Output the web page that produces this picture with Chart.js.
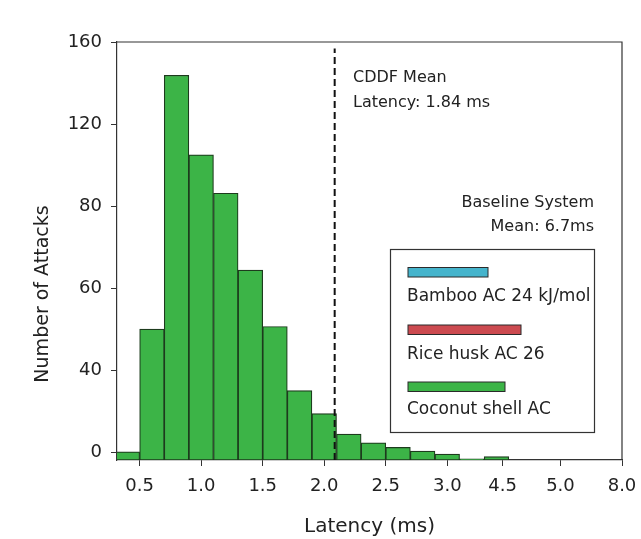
<!DOCTYPE html>
<html lang="en">
<head>
  <meta charset="UTF-8">
  <title>Latency histogram</title>
  <script src="https://cdn.jsdelivr.net/npm/chart.js"></script>
  <style>
    body {
      margin: 0;
      background: #fff;
    }
    canvas {
      display: block;
    }
  </style>
</head>
<body>

  <canvas id="grafiku" width="641" height="539"></canvas>

  <script>
    // bin centres (axis units) and bar heights
    const binCenters = [0.4, 0.6, 0.8, 1.0, 1.2, 1.4, 1.6, 1.8, 2.0, 2.2, 2.4, 2.6, 2.8, 3.0, 3.2, 3.4];
    const attackCounts = [0.1, 48, 147, 116, 101, 71, 49, 24, 15, 7, 3.6, 1.8, 0.4, -0.8, -2.6, -1.8];

    // axis ticks: where they sit and what they say
    const xTickPos = [0.5, 1.0, 1.5, 2.0, 2.5, 3.0, 3.45, 3.92, 4.42];
    const xTickLabels = ['0.5', '1.0', '1.5', '2.0', '2.5', '3.0', '4.5', '5.0', '8.0'];
    const yTickPos = [0, 32, 64, 96, 128, 160];
    const yTickLabels = ['0', '40', '60', '80', '120', '160'];

    // dashed mean line
    const meanLineX = 2.085;
    const meanLineTop = 157.5;

    const annotationMean = ['CDDF Mean', 'Latency: 1.84 ms'];
    const annotationBaseline = ['Baseline System', 'Mean: 6.7ms'];

    const legendLabels = ['Bamboo AC 24 kJ/mol', 'Rice husk AC 26', 'Coconut shell AC'];
    const legendColors = ['#45b4cc', '#cc4a50', '#3cb447'];

    const Y_MIN = -3.1;
    const FONT = "'DejaVu Sans', sans-serif";

    const decor = {
      id: 'decor',
      afterDraw(chart) {
        const ctx = chart.ctx;
        const a = chart.chartArea;
        ctx.save();

        // top and right frame
        ctx.strokeStyle = '#333';
        ctx.lineWidth = 1.2;
        ctx.beginPath();
        ctx.moveTo(a.left, a.top);
        ctx.lineTo(a.right, a.top);
        ctx.lineTo(a.right, a.bottom);
        ctx.stroke();

        // y title
        ctx.fillStyle = '#222';
        ctx.font = '19px ' + FONT;
        ctx.textAlign = 'center';
        ctx.textBaseline = 'middle';
        ctx.translate(43, 294);
        ctx.rotate(-Math.PI / 2);
        ctx.fillText('Number of Attacks', 0, 0);
        ctx.setTransform(1, 0, 0, 1, 0, 0);

        // annotations
        ctx.font = '16px ' + FONT;
        ctx.textAlign = 'left';
        ctx.fillText(annotationMean[0], 353, 78);
        ctx.fillText(annotationMean[1], 353, 103);
        ctx.textAlign = 'right';
        ctx.fillText(annotationBaseline[0], 594, 203);
        ctx.fillText(annotationBaseline[1], 594, 227);

        // legend box
        ctx.fillStyle = '#fff';
        ctx.fillRect(390, 249, 204, 183);
        ctx.strokeStyle = '#333';
        ctx.lineWidth = 1.2;
        ctx.strokeRect(390.5, 249.5, 204, 183);

        const swatchW = [80, 113, 97];
        const swatchY = [267.5, 325, 382];
        const textY = [297, 355, 410];
        ctx.font = '17px ' + FONT;
        ctx.textAlign = 'left';
        legendLabels.forEach((lab, i) => {
          ctx.fillStyle = legendColors[i];
          ctx.fillRect(408, swatchY[i], swatchW[i], 9.5);
          ctx.strokeStyle = '#2a2a2a';
          ctx.lineWidth = 1;
          ctx.strokeRect(408, swatchY[i], swatchW[i], 9.5);
          ctx.fillStyle = '#222';
          ctx.fillText(lab, 407, textY[i]);
        });

        ctx.restore();
      }
    };

    new Chart(document.getElementById('grafiku'), {
      data: {
        datasets: [
          {
            type: 'line',
            data: [{x: meanLineX, y: Y_MIN}, {x: meanLineX, y: meanLineTop}],
            borderColor: '#111',
            borderWidth: 2,
            borderDash: [7, 4],
            pointRadius: 0,
            order: 0
          },
          {
            type: 'bar',
            data: binCenters.map((x, i) => ({x: x, y: attackCounts[i]})),
            base: Y_MIN,
            backgroundColor: '#3cb447',
            borderColor: '#1d3b1d',
            borderWidth: 1.2,
            borderSkipped: false,
            barPercentage: 1,
            categoryPercentage: 1,
            order: 1
          }
        ]
      },
      options: {
        responsive: false,
        animation: false,
        layout: { padding: { top: 42, right: 19, bottom: 0, left: 0 } },
        plugins: {
          legend: { display: false },
          tooltip: { enabled: false }
        },
        scales: {
          x: {
            type: 'linear',
            min: 0.316,
            max: 4.42,
            offset: false,
            afterBuildTicks: s => { s.ticks = xTickPos.map(v => ({value: v})); },
            afterFit: s => { s.height = 79; s.paddingLeft = 0; s.paddingRight = 0; },
            grid: { display: true, drawOnChartArea: false, offset: false, tickLength: 6, color: '#333' },
            border: { color: '#333', width: 1.2 },
            ticks: {
              autoSkip: false,
              maxRotation: 0,
              padding: 10,
              color: '#222',
              font: { family: FONT, size: 18 },
              callback: (v, i) => xTickLabels[i]
            },
            title: {
              display: true,
              text: 'Latency (ms)',
              color: '#222',
              padding: { top: 0, bottom: 0 },
              font: { family: FONT, size: 20 }
            }
          },
          y: {
            min: Y_MIN,
            max: 160,
            afterBuildTicks: s => { s.ticks = yTickPos.map(v => ({value: v})); },
            afterFit: s => { s.width = 117; s.paddingTop = 0; s.paddingBottom = 0; },
            grid: { display: true, drawOnChartArea: false, tickLength: 6, color: '#333' },
            border: { color: '#333', width: 1.2 },
            ticks: {
              padding: 9,
              color: '#222',
              font: { family: FONT, size: 18 },
              callback: (v, i) => yTickLabels[i]
            }
          }
        }
      },
      plugins: [decor]
    });
  </script>

</body>
</html>
